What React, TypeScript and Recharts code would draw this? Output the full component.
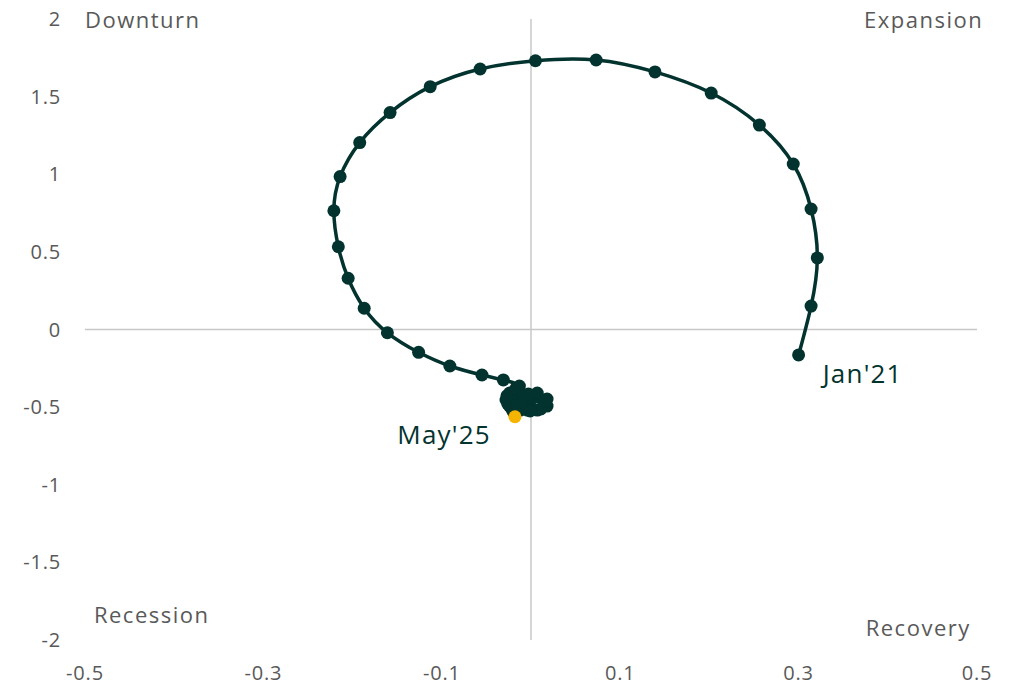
import React from "react";
import { LineChart, Line, XAxis, YAxis, ReferenceLine, ReferenceDot } from "recharts";

// monthly path, Jan'21 -> May'25
const xValues = [
  0.3, 0.314, 0.321, 0.314, 0.294, 0.256, 0.202, 0.139, 0.073, 0.005,
  -0.057, -0.113, -0.158, -0.192, -0.214, -0.221, -0.216, -0.205, -0.187, -0.161,
  -0.126, -0.091, -0.055, -0.031, -0.013, -0.024, -0.028, -0.024, -0.012, -0.001,
  0.008, 0.018, 0.018, 0.007, -0.004, -0.016, -0.021, -0.015, -0.003, 0.007,
  0.016, 0.011, -0.001, -0.012, -0.026, -0.027, -0.017, -0.009, -0.011, -0.018,
  -0.021, -0.019, -0.018,
];
const yValues = [
  -0.164, 0.151, 0.461, 0.776, 1.066, 1.317, 1.523, 1.659, 1.736, 1.731,
  1.678, 1.564, 1.397, 1.204, 0.985, 0.765, 0.533, 0.33, 0.137, -0.021,
  -0.147, -0.235, -0.293, -0.325, -0.364, -0.409, -0.454, -0.493, -0.506, -0.461,
  -0.435, -0.448, -0.493, -0.519, -0.519, -0.48, -0.435, -0.385, -0.416, -0.409,
  -0.461, -0.512, -0.525, -0.519, -0.48, -0.428, -0.38, -0.435, -0.48, -0.493,
  -0.519, -0.538, -0.562,
];
const xTicks = [-0.5, -0.3, -0.1, 0.1, 0.3, 0.5];
const yTicks = [2, 1.5, 1, 0.5, 0, -0.5, -1, -1.5, -2];
const startLabel = "Jan'21";
const endLabel = "May'25";

const data = xValues.map((x, i) => ({ x, y: yValues[i] }));

const DARK = "#03332e";
const YELLOW = "#f5b400";
const GREY = "#595959";
const FONT = "'Open Sans', sans-serif";

const Dot = (props: any) => {
  const { cx, cy, index } = props;
  const last = index === data.length - 1;
  return <circle key={`d${index}`} cx={cx} cy={cy} r={6.5} fill={last ? YELLOW : DARK} stroke="none" />;
};

const textLabel = (value: string, anchor: string, size: number, color: string, spacing: number) => (props: any) => {
  const vb = props.viewBox || {};
  const cx = vb.x + (vb.width || 0) / 2;
  const cy = vb.y + (vb.height || 0) / 2;
  return (
    <text
      x={cx}
      y={cy}
      textAnchor={anchor}
      dominantBaseline="central"
      fontSize={size}
      fill={color}
      fontFamily={FONT}
      letterSpacing={spacing}
    >
      {value}
    </text>
  );
};

const quadrants = [
  { x: -0.5, y: 2.0, text: "Downturn", anchor: "start" },
  { x: 0.507, y: 2.0, text: "Expansion", anchor: "end" },
  { x: -0.49, y: -1.832, text: "Recession", anchor: "start" },
  { x: 0.493, y: -1.914, text: "Recovery", anchor: "end" },
];

const tickStyle = { fontSize: 20, fill: GREY, fontFamily: FONT, letterSpacing: 0.8 };

export default function App() {
  return (
    <div style={{ position: "absolute", left: 0, top: 0, background: "#fff" }}>
      <LineChart width={1022} height={691} data={data} margin={{ top: 19, right: 45, bottom: 0, left: 0 }}>
        <XAxis
          type="number"
          dataKey="x"
          domain={[-0.5, 0.5]}
          ticks={xTicks}
          axisLine={false}
          tickLine={false}
          tickSize={0}
          tickMargin={26}
          height={51}
          tick={tickStyle}
          tickFormatter={(v: number) => String(v)}
        />
        <YAxis
          type="number"
          dataKey="y"
          domain={[-2, 2]}
          ticks={yTicks}
          axisLine={false}
          tickLine={false}
          tickSize={0}
          tickMargin={24}
          width={85}
          tick={tickStyle}
          tickFormatter={(v: number) => String(v)}
        />
        <ReferenceLine y={0} stroke="#c8c8c8" strokeWidth={1.5} />
        <ReferenceLine x={0} stroke="#c8c8c8" strokeWidth={1.5} />
        <Line
          type="natural"
          dataKey="y"
          stroke={DARK}
          strokeWidth={3.5}
          dot={Dot}
          activeDot={false}
          isAnimationActive={false}
        />
        {quadrants.map((q) => (
          <ReferenceDot
            key={q.text}
            x={q.x}
            y={q.y}
            r={0}
            ifOverflow="visible"
            label={textLabel(q.text, q.anchor, 22, GREY, 1.5)}
          />
        ))}
        <ReferenceDot x={0.327} y={-0.283} r={0} ifOverflow="visible" label={textLabel(startLabel, "start", 26, DARK, 1.2)} />
        <ReferenceDot x={-0.045} y={-0.67} r={0} ifOverflow="visible" label={textLabel(endLabel, "end", 26, DARK, 1.2)} />
      </LineChart>
    </div>
  );
}
